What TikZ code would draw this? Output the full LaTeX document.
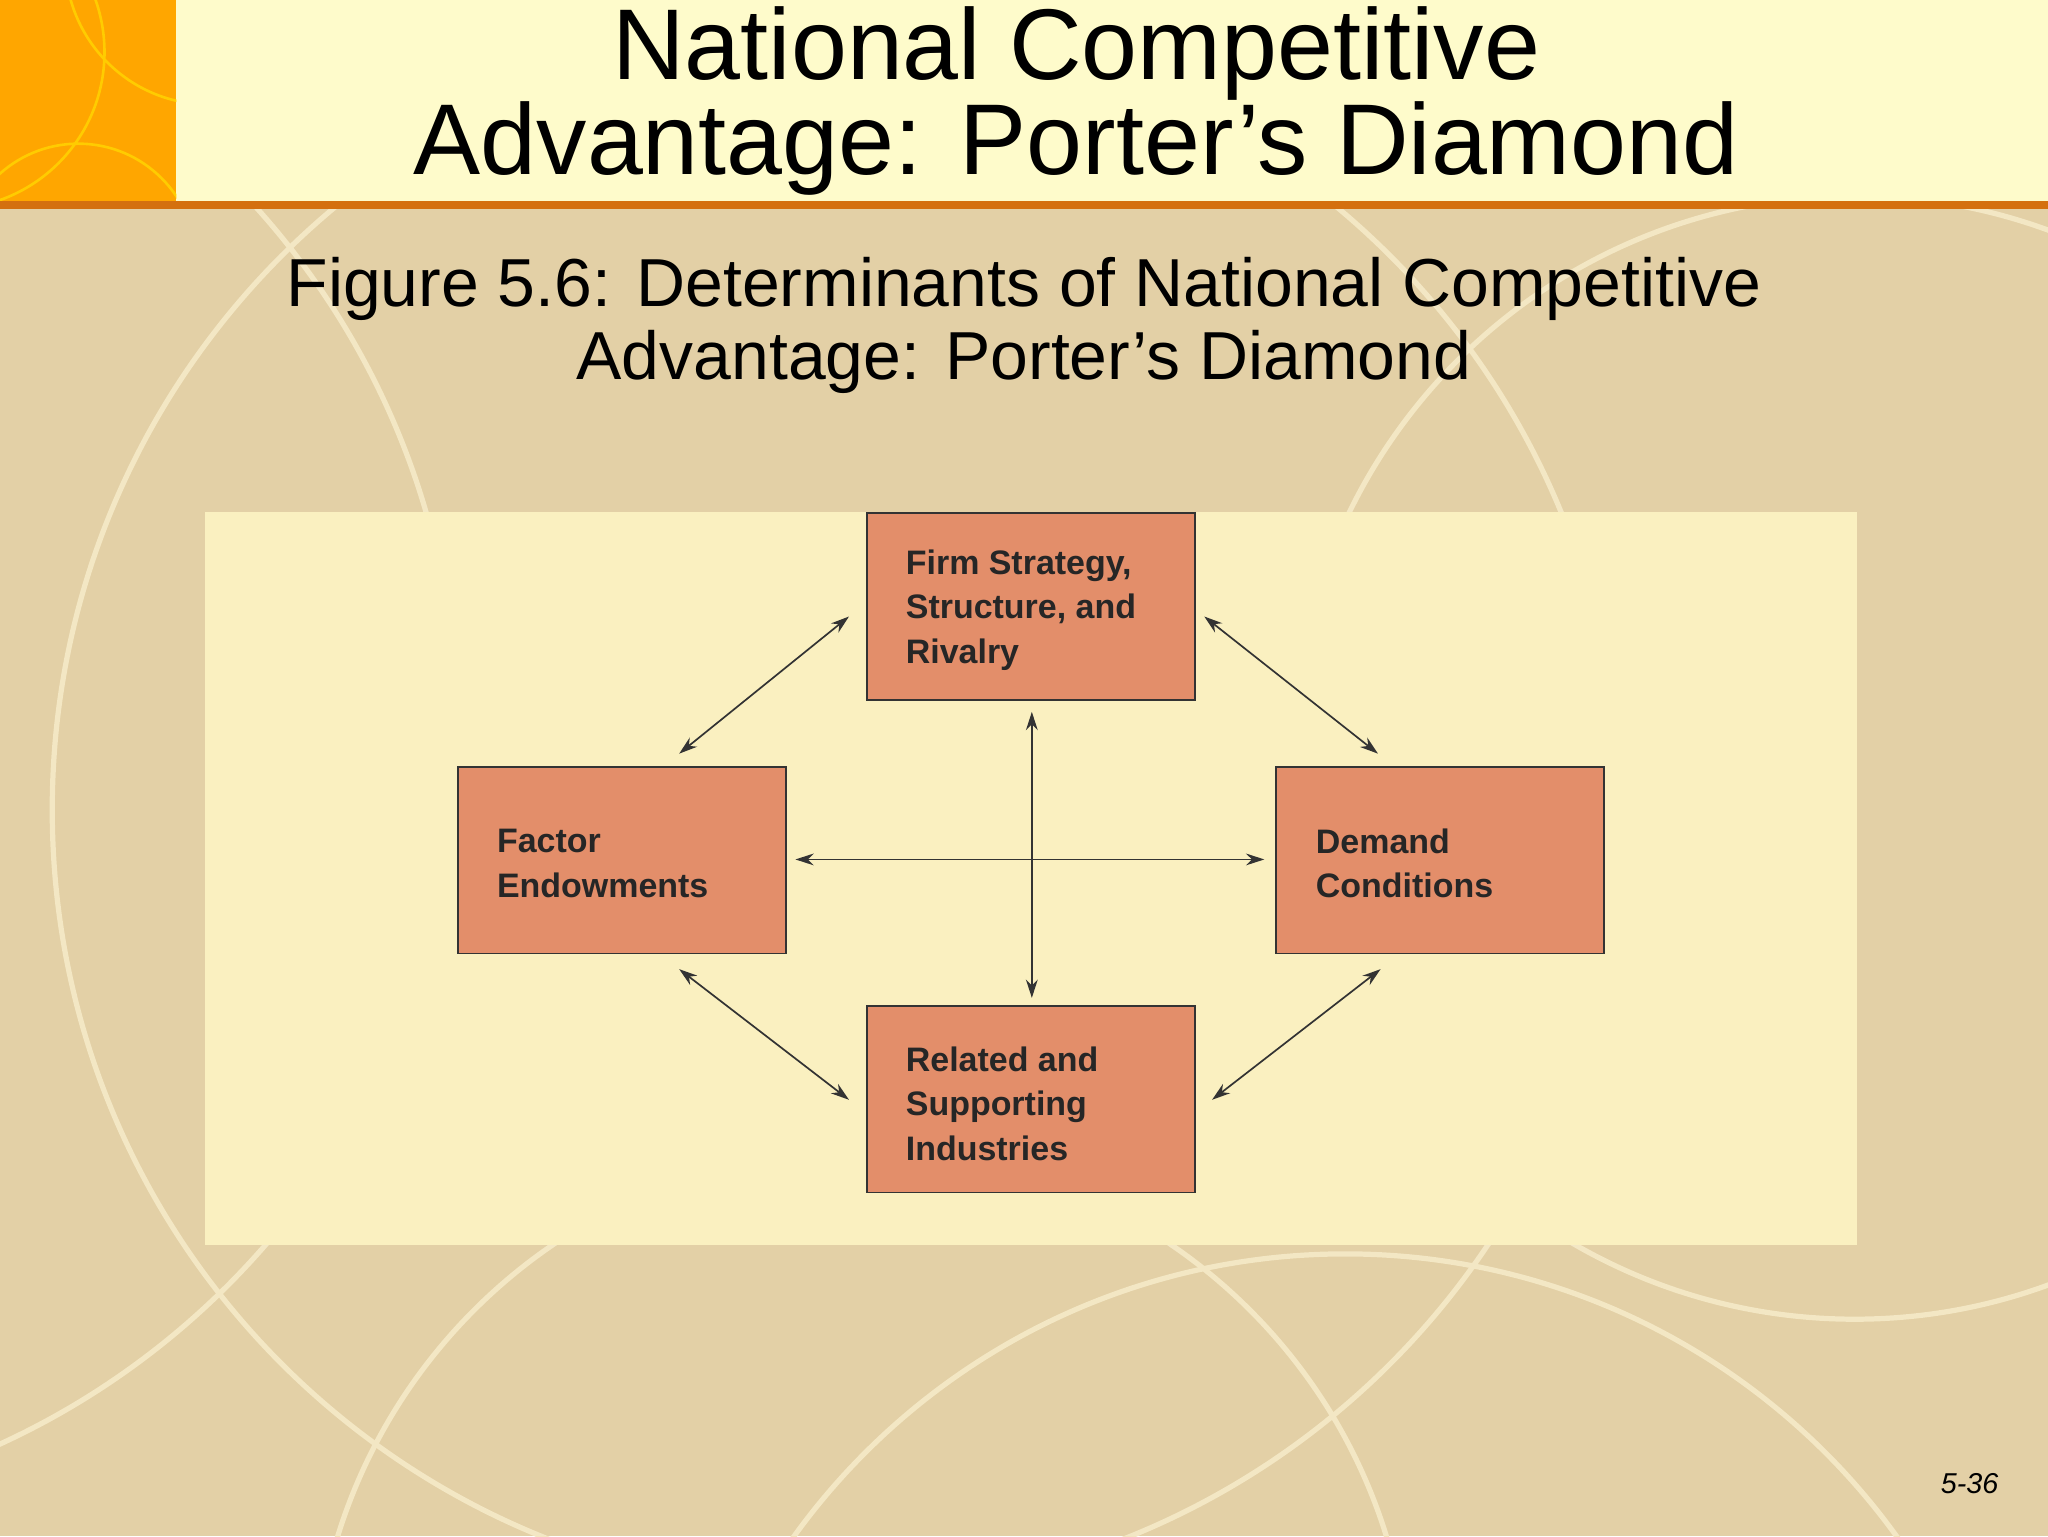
\documentclass[tikz,border=0pt]{standalone}
\usepackage{fontspec}
\setmainfont{Liberation Sans}
\usetikzlibrary{arrows.meta}
\definecolor{bg}{HTML}{E3D0A6}
\definecolor{head}{HTML}{FEFBCB}
\definecolor{oline}{HTML}{D4700F}
\definecolor{panel}{HTML}{FAF0C0}
\definecolor{boxc}{HTML}{E38E6A}
\definecolor{arcc}{HTML}{F3E7C4}
\tikzset{
  fbox/.style={draw=black!80,line width=1.5pt,fill=boxc,minimum width=251pt,minimum height=143pt,inner sep=0pt},
  ftxt/.style={font=\fontsize{26}{34}\selectfont\bfseries,align=left,text=black!85,anchor=west},
  arr/.style={{Stealth[length=14pt,width=9pt]}-{Stealth[length=14pt,width=9pt]},line width=1.3pt,black!80}
}
\begin{document}
\begin{tikzpicture}[x=1pt,y=-1pt]
\useasboundingbox (0,0) rectangle (1568,1176);
\fill[bg] (0,0) rectangle (1568,1176);
\begin{scope}
\clip (0,0) rectangle (1568,1176);
\draw[arcc,line width=4pt] (640,620) circle (600);
\draw[arcc,line width=4pt] (1420,580) circle (430);
\draw[arcc,line width=4pt] (-250,560) circle (600);
\draw[arcc,line width=4pt] (1030,1480) circle (520);
\draw[arcc,line width=4pt] (660,1300) circle (420);
\end{scope}
\fill[head] (0,0) rectangle (1568,155);
\fill[orange!70!yellow] (0,0) rectangle (135,155);
\begin{scope}
\clip (0,0) rectangle (135,155);
\draw[orange!40!yellow,line width=2pt] (-40,40) circle (120) (160,-30) circle (110) (60,200) circle (90);
\end{scope}
\fill[oline] (0,154) rectangle (1568,160);
\node[font=\fontsize{77}{70}\selectfont,align=center] (title) at (824,77) {National Competitive\\Advantage: Porter’s Diamond};
\node[font=\fontsize{52}{56}\selectfont,align=center] (sub) at (784,249) {Figure 5.6: Determinants of National Competitive\\Advantage: Porter’s Diamond};
\fill[panel] (157,392) rectangle (1422,953);
\node[fbox] (top) at (789.5,464.5) {};
\node[ftxt] at (690,467) {Firm Strategy,\\Structure, and\\Rivalry};
\node[fbox] (left) at (476,658.5) {};
\node[ftxt] at (377,661) {Factor\\Endowments};
\node[fbox] (right) at (1102.5,658.5) {};
\node[ftxt] at (1004,661) {Demand\\Conditions};
\node[fbox] (bot) at (789.5,841.5) {};
\node[ftxt] at (690,845) {Related and\\Supporting\\Industries};
\coordinate (a1) at (520,577); \coordinate (a2) at (650,472);
\coordinate (b1) at (922,472); \coordinate (b2) at (1055,577);
\coordinate (c1) at (520,742); \coordinate (c2) at (650,842);
\coordinate (d1) at (928,842); \coordinate (d2) at (1057,742);
\coordinate (v1) at (790,545); \coordinate (v2) at (790,764);
\coordinate (h1) at (609,658); \coordinate (h2) at (968,658);
\draw[arr] (a1) -- (a2);
\draw[arr] (b1) -- (b2);
\draw[arr] (c1) -- (c2);
\draw[arr] (d1) -- (d2);
\draw[arr] (v1) -- (v2);
\draw[arr] (h1) -- (h2);
\node[font=\fontsize{22}{24}\selectfont\itshape] (pg) at (1508,1136) {5-36};
\end{tikzpicture}
\end{document}
